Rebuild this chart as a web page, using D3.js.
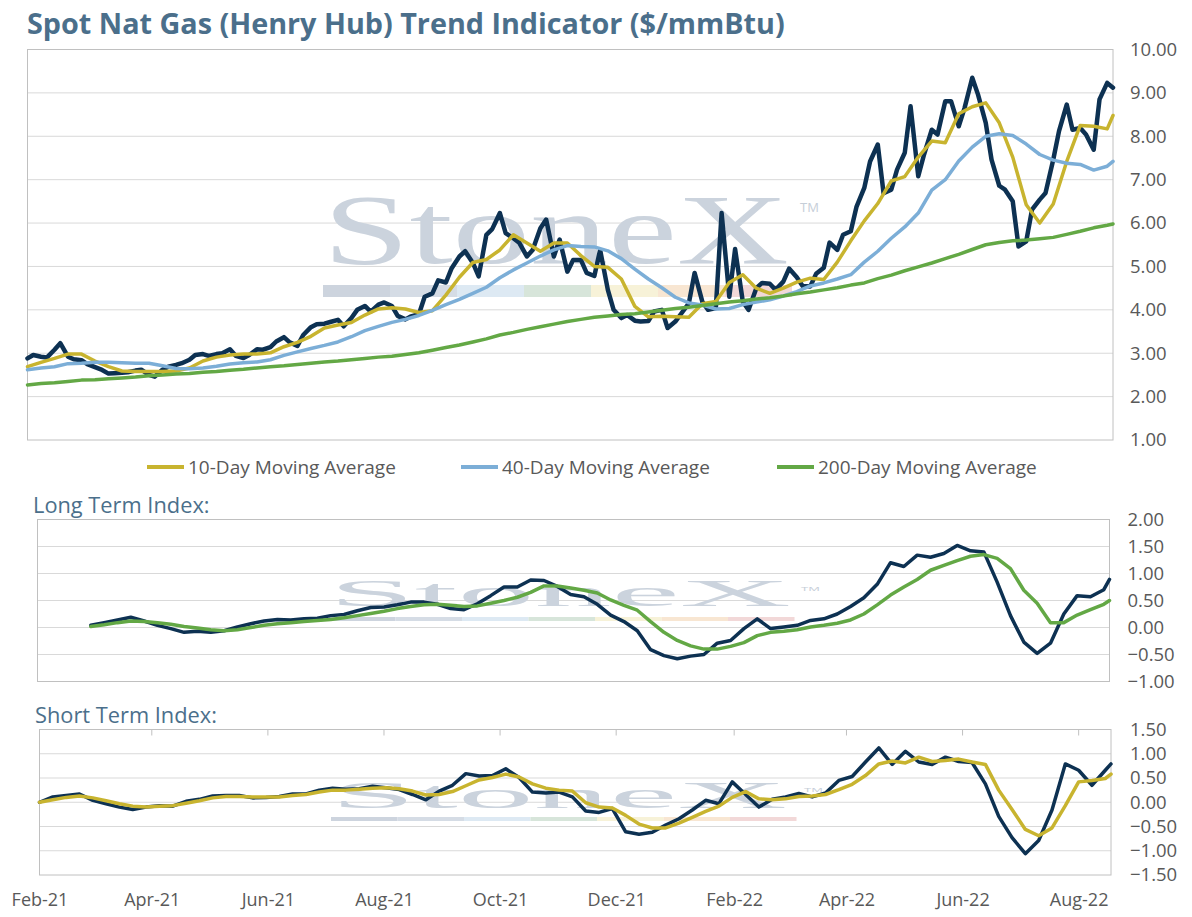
<!DOCTYPE html>
<html>
<head>
<meta charset="utf-8">
<script src="https://cdn.jsdelivr.net/npm/d3@7"></script>
<style>
  body { margin: 0; background: #fff; }
  text { font-family: "Open Sans", "Noto Sans", sans-serif; }
</style>
</head>
<body>
<svg id="chart" width="1192" height="917"></svg>
<script>
// weekly sample dates (Mondays) plus the last day of data
const weeks = [
  "2021-02-01","2021-02-08","2021-02-15","2021-02-22","2021-03-01","2021-03-08","2021-03-15","2021-03-22","2021-03-29",
  "2021-04-05","2021-04-12","2021-04-19","2021-04-26","2021-05-03","2021-05-10","2021-05-17","2021-05-24","2021-05-31",
  "2021-06-07","2021-06-14","2021-06-21","2021-06-28","2021-07-05","2021-07-12","2021-07-19","2021-07-26",
  "2021-08-02","2021-08-09","2021-08-16","2021-08-23","2021-08-30","2021-09-06","2021-09-13","2021-09-20","2021-09-27",
  "2021-10-04","2021-10-11","2021-10-18","2021-10-25","2021-11-01","2021-11-08","2021-11-15","2021-11-22","2021-11-29",
  "2021-12-06","2021-12-13","2021-12-20","2021-12-27","2022-01-03","2022-01-10","2022-01-17","2022-01-24","2022-01-31",
  "2022-02-07","2022-02-14","2022-02-21","2022-02-28","2022-03-07","2022-03-14","2022-03-21","2022-03-28",
  "2022-04-04","2022-04-11","2022-04-18","2022-04-25","2022-05-02","2022-05-09","2022-05-16","2022-05-23","2022-05-30",
  "2022-06-06","2022-06-13","2022-06-20","2022-06-27","2022-07-04","2022-07-11","2022-07-18","2022-07-25",
  "2022-08-01","2022-08-08","2022-08-15","2022-08-18"
];

// spot price sampled twice a week (Mon / Thu)
const spotDates = [
  "2021-02-01","2021-02-04","2021-02-08","2021-02-11","2021-02-15","2021-02-18","2021-02-22","2021-02-25",
  "2021-03-01","2021-03-04","2021-03-08","2021-03-11","2021-03-15","2021-03-18","2021-03-22","2021-03-25","2021-03-29","2021-04-01",
  "2021-04-05","2021-04-08","2021-04-12","2021-04-15","2021-04-19","2021-04-22","2021-04-26","2021-04-29",
  "2021-05-03","2021-05-06","2021-05-10","2021-05-13","2021-05-17","2021-05-20","2021-05-24","2021-05-27","2021-05-31","2021-06-03",
  "2021-06-07","2021-06-10","2021-06-14","2021-06-17","2021-06-21","2021-06-24","2021-06-28","2021-07-01",
  "2021-07-05","2021-07-08","2021-07-12","2021-07-15","2021-07-19","2021-07-22","2021-07-26","2021-07-29",
  "2021-08-02","2021-08-05","2021-08-09","2021-08-12","2021-08-16","2021-08-19","2021-08-23","2021-08-26","2021-08-30","2021-09-02",
  "2021-09-06","2021-09-09","2021-09-13","2021-09-16","2021-09-20","2021-09-23","2021-09-27","2021-09-30",
  "2021-10-04","2021-10-07","2021-10-11","2021-10-14","2021-10-18","2021-10-21","2021-10-25","2021-10-28",
  "2021-11-01","2021-11-04","2021-11-08","2021-11-11","2021-11-15","2021-11-18","2021-11-22","2021-11-25","2021-11-29","2021-12-02",
  "2021-12-06","2021-12-09","2021-12-13","2021-12-16","2021-12-20","2021-12-23","2021-12-27","2021-12-30",
  "2022-01-03","2022-01-06","2022-01-10","2022-01-13","2022-01-17","2022-01-20","2022-01-24","2022-01-27","2022-01-31","2022-02-03",
  "2022-02-07","2022-02-10","2022-02-14","2022-02-17","2022-02-21","2022-02-24","2022-02-28","2022-03-03",
  "2022-03-07","2022-03-10","2022-03-14","2022-03-17","2022-03-21","2022-03-24","2022-03-28","2022-03-31",
  "2022-04-04","2022-04-07","2022-04-11","2022-04-14","2022-04-18","2022-04-21","2022-04-25","2022-04-28",
  "2022-05-02","2022-05-05","2022-05-09","2022-05-12","2022-05-16","2022-05-19","2022-05-23","2022-05-26","2022-05-30","2022-06-02",
  "2022-06-06","2022-06-09","2022-06-13","2022-06-16","2022-06-20","2022-06-23","2022-06-27","2022-06-30",
  "2022-07-04","2022-07-07","2022-07-11","2022-07-14","2022-07-18","2022-07-21","2022-07-25","2022-07-28",
  "2022-08-01","2022-08-04","2022-08-08","2022-08-11","2022-08-15","2022-08-18"
];
const spotPrice = [
  2.88,2.96, 2.92,2.90, 3.08,3.23, 2.92,2.86, 2.84,2.75, 2.68,2.63, 2.53,2.54, 2.55,2.56, 2.60,2.62, 2.50,2.46,
  2.62,2.69, 2.73,2.77, 2.85,2.96, 2.98,2.94, 2.98,3.00, 3.09,2.94, 2.89,2.96, 3.09,3.08, 3.14,3.27, 3.37,3.25,
  3.17,3.42, 3.60,3.67, 3.68,3.72, 3.77,3.62, 3.81,4.00, 4.09,3.96, 4.12,4.17, 4.09,3.86, 3.78,3.85, 3.90,4.30,
  4.38,4.68, 4.63,4.96, 5.23,5.35, 5.08,4.77, 5.73,5.86, 6.23,5.77, 5.65,5.55, 5.23,5.38, 5.88,6.08, 5.23,5.62,
  4.88,5.15, 5.15,4.85, 4.78,5.38, 4.46,4.00, 3.81,3.88, 3.75,3.73, 3.74,3.96, 4.00,3.58, 3.73,3.91, 4.15,4.85,
  4.19,4.00, 4.04,6.23, 4.30,5.40, 4.19,4.00, 4.50,4.62, 4.60,4.46, 4.65,4.95, 4.75,4.55, 4.54,4.83, 4.97,5.55,
  5.38,5.73, 5.81,6.38, 6.81,7.42, 7.81,6.69, 6.77,7.23, 7.62,8.69, 7.08,7.58, 8.15,8.04, 8.81,8.81, 8.23,8.65,
  9.35,8.96, 8.31,7.46, 6.86,6.77, 6.50,5.46, 5.58,6.31, 6.54,6.69, 7.46,8.12, 8.73,8.15, 8.19,8.04, 7.69,8.85,
  9.23,9.12
];
const ma10 = [
  2.69,2.79,2.88,2.98,2.98,2.82,2.69,2.59,2.58,2.58,2.58,2.59,2.66,2.82,2.91,2.96,2.98,2.98,3.01,3.15,
  3.25,3.39,3.58,3.65,3.71,3.88,4.02,4.05,4.02,3.94,3.98,4.34,4.75,5.09,5.16,5.38,5.73,5.54,5.35,5.54,
  5.54,5.25,5.00,4.98,4.71,4.08,3.84,3.85,3.84,3.83,4.14,4.19,4.63,4.81,4.50,4.38,4.50,4.64,4.73,4.70,
  5.10,5.59,6.05,6.45,6.97,7.07,7.52,7.89,7.85,8.52,8.68,8.77,8.31,7.52,6.42,6.00,6.44,7.42,8.25,8.23,
  8.17,8.48
];
const ma40 = [
  2.62,2.66,2.69,2.76,2.77,2.79,2.79,2.78,2.77,2.77,2.71,2.65,2.64,2.66,2.70,2.75,2.78,2.80,2.85,2.95,
  3.03,3.11,3.18,3.26,3.38,3.52,3.62,3.71,3.78,3.87,3.99,4.12,4.24,4.38,4.52,4.74,4.92,5.08,5.24,5.38,
  5.48,5.46,5.45,5.36,5.18,4.94,4.71,4.51,4.29,4.16,4.11,4.02,4.03,4.12,4.18,4.23,4.32,4.42,4.55,4.62,
  4.71,4.81,5.10,5.35,5.65,5.91,6.23,6.76,7.00,7.43,7.75,8.00,8.06,8.02,7.82,7.58,7.45,7.38,7.35,7.22,
  7.31,7.42
];
const ma200 = [
  2.27,2.30,2.32,2.35,2.38,2.39,2.41,2.43,2.45,2.48,2.50,2.52,2.53,2.56,2.58,2.61,2.63,2.66,2.69,2.71,
  2.74,2.77,2.80,2.82,2.85,2.88,2.91,2.93,2.97,3.01,3.07,3.13,3.19,3.26,3.33,3.42,3.48,3.55,3.61,3.67,
  3.73,3.78,3.83,3.86,3.89,3.91,3.95,3.99,4.03,4.06,4.10,4.14,4.18,4.21,4.25,4.28,4.32,4.37,4.41,4.46,
  4.51,4.57,4.62,4.72,4.80,4.90,4.99,5.08,5.18,5.28,5.39,5.50,5.55,5.59,5.61,5.64,5.67,5.74,5.81,5.89,
  5.95,5.98
];
const longIndex = [
  null,null,null,null,0.04,0.09,0.14,0.19,0.12,0.04,-0.02,-0.09,-0.07,-0.09,-0.06,0.01,0.07,0.12,0.15,0.14,
  0.16,0.17,0.22,0.24,0.31,0.37,0.38,0.42,0.47,0.47,0.43,0.35,0.33,0.44,0.59,0.75,0.75,0.88,0.87,0.76,
  0.61,0.57,0.43,0.23,0.11,-0.06,-0.41,-0.52,-0.58,-0.53,-0.50,-0.29,-0.24,-0.02,0.16,-0.02,0.01,0.04,0.13,0.16,
  0.25,0.39,0.55,0.80,1.20,1.13,1.34,1.30,1.37,1.52,1.42,1.40,0.84,0.22,-0.27,-0.48,-0.29,0.25,0.59,0.57,
  0.70,0.89
];
const longIndexAvg = [
  null,null,null,null,0.02,0.05,0.09,0.12,0.11,0.09,0.06,0.02,-0.01,-0.04,-0.06,-0.04,0.00,0.04,0.07,0.09,
  0.11,0.13,0.15,0.18,0.22,0.26,0.30,0.35,0.39,0.42,0.43,0.41,0.39,0.40,0.45,0.50,0.56,0.65,0.77,0.77,
  0.73,0.69,0.64,0.51,0.41,0.32,0.11,-0.09,-0.24,-0.34,-0.40,-0.40,-0.35,-0.28,-0.15,-0.09,-0.07,-0.04,0.01,0.04,
  0.08,0.14,0.25,0.42,0.60,0.75,0.89,1.06,1.15,1.24,1.32,1.35,1.28,1.09,0.69,0.45,0.09,0.09,0.23,0.33,
  0.43,0.50
];
const shortIndex = [
  0.00,0.11,0.14,0.17,0.04,-0.03,-0.10,-0.15,-0.10,-0.07,-0.08,0.02,0.06,0.13,0.14,0.14,0.09,0.10,0.12,0.17,
  0.17,0.25,0.29,0.27,0.28,0.33,0.30,0.26,0.16,0.05,0.23,0.35,0.59,0.54,0.55,0.69,0.51,0.21,0.19,0.21,
  0.11,-0.18,-0.21,-0.13,-0.61,-0.66,-0.62,-0.47,-0.34,-0.16,0.04,-0.03,0.42,0.16,-0.10,0.06,0.11,0.18,0.11,0.19,
  0.45,0.53,0.83,1.12,0.78,1.05,0.83,0.78,0.93,0.84,0.82,0.38,-0.29,-0.73,-1.06,-0.79,-0.16,0.79,0.66,0.35,
  0.66,0.79
];
const shortIndexAvg = [
  0.00,0.05,0.10,0.13,0.09,0.03,-0.03,-0.08,-0.10,-0.08,-0.07,-0.02,0.03,0.09,0.12,0.12,0.11,0.11,0.11,0.14,
  0.16,0.21,0.25,0.25,0.27,0.29,0.30,0.28,0.23,0.15,0.16,0.22,0.34,0.46,0.51,0.58,0.52,0.38,0.29,0.25,
  0.23,-0.01,-0.10,-0.12,-0.27,-0.45,-0.53,-0.53,-0.43,-0.31,-0.19,-0.08,0.10,0.22,0.07,0.05,0.07,0.12,0.13,0.16,
  0.26,0.37,0.55,0.79,0.85,0.81,0.93,0.84,0.86,0.89,0.83,0.78,0.25,-0.15,-0.56,-0.69,-0.53,-0.07,0.42,0.45,
  0.49,0.58
];

const priceTicks = [1, 2, 3, 4, 5, 6, 7, 8, 9, 10];
const longTicks = [-1, -0.5, 0, 0.5, 1, 1.5, 2];
const shortTicks = [-1.5, -1, -0.5, 0, 0.5, 1, 1.5];
const monthTicks = ["2021-02-01","2021-04-01","2021-06-01","2021-08-01","2021-10-01","2021-12-01",
                    "2022-02-01","2022-04-01","2022-06-01","2022-08-01"];
const legendLabels = ["10-Day Moving Average", "40-Day Moving Average", "200-Day Moving Average"];

const COLORS = {
  spot: "#0d3152",
  ma10: "#c8b42f",
  ma40: "#7caed7",
  ma200: "#63a845",
  grid: "#d9d9d9",
  frame: "#c0c0c0",
  axisText: "#595959",
  heading: "#4b6f8b"
};
const markColors = ["#cdd4de", "#d5dce5", "#dde9f3", "#d7e5da", "#f7f2d8", "#f8e6d2", "#f2d8d8"];
const FONT = "'Open Sans', 'Noto Sans', sans-serif";

const parse = d3.timeParse("%Y-%m-%d");
const weekDates = weeks.map(parse);
const spotSeries = spotDates.map((d, i) => ({ date: parse(d), value: spotPrice[i] }));
const weekly = arr => arr.map((v, i) => ({ date: weekDates[i], value: v }));
const dateDomain = [parse(spotDates[0]), parse(spotDates[spotDates.length - 1])];

const svg = d3.select("#chart");

// title, sized so it spans the same width as the original
const title = svg.append("text")
  .attr("x", 27)
  .attr("y", 34)
  .attr("fill", COLORS.heading)
  .attr("font-weight", "bold")
  .style("font-size", "27px")
  .text("Spot Nat Gas (Henry Hub) Trend Indicator ($/mmBtu)");
const titleW = title.node().getComputedTextLength();
if (titleW > 0) title.style("font-size", (27 * 758 / titleW).toFixed(2) + "px");

function drawPanel(p) {
  const g = svg.append("g");
  const x = d3.scaleTime().domain(dateDomain).range([p.x0, p.x1]);
  const y = d3.scaleLinear().domain(p.yDomain).range([p.y1, p.y0]);

  // gridlines
  g.selectAll(".grid")
    .data(p.ticks.slice(1, -1))
    .enter()
    .append("line")
    .attr("x1", p.x0).attr("x2", p.x1)
    .attr("y1", d => y(d)).attr("y2", d => y(d))
    .attr("stroke", COLORS.grid)
    .attr("stroke-width", 1);

  // frame
  g.append("rect")
    .attr("x", p.x0).attr("y", p.y0)
    .attr("width", p.x1 - p.x0).attr("height", p.y1 - p.y0)
    .attr("fill", "none")
    .attr("stroke", COLORS.frame)
    .attr("stroke-width", 1);

  drawWatermark(g, p.mark);

  // right-hand value axis
  const axis = g.append("g")
    .attr("transform", `translate(${p.x1},0)`)
    .call(d3.axisRight(y).tickValues(p.ticks).tickSize(0).tickPadding(p.labelPad).tickFormat(d3.format(".2f")));
  axis.select(".domain").remove();
  axis.selectAll("text")
    .attr("fill", COLORS.axisText)
    .style("font-family", FONT)
    .style("font-size", "18.5px");

  const line = d3.line()
    .defined(d => d.value !== null)
    .x(d => x(d.date))
    .y(d => y(d.value));

  p.series.forEach(s => {
    g.append("path")
      .datum(s.data)
      .attr("d", line)
      .attr("fill", "none")
      .attr("stroke", s.color)
      .attr("stroke-width", s.width)
      .attr("stroke-linejoin", "round")
      .attr("stroke-linecap", "round");
  });

  return { g, x, y };
}

function drawWatermark(g, m) {
  const t = g.append("g").attr("transform", `translate(${m.x},${m.baseline}) scale(1,${m.sy})`);
  t.append("text")
    .attr("x", 0).attr("y", 0)
    .attr("textLength", m.width)
    .attr("lengthAdjust", "spacingAndGlyphs")
    .style("font-family", "'Liberation Serif', 'DejaVu Serif', serif")
    .style("font-size", "100px")
    .attr("fill", "#cbd3dd")
    .text("StoneX");
  const tm = g.append("g").attr("transform", `translate(${m.tmX},${m.tmY}) scale(1,${m.sy})`);
  tm.append("text")
    .attr("fill", "#c6ced8")
    .style("font-family", FONT)
    .style("font-size", "13px")
    .text("TM");
  g.selectAll(null)
    .data(markColors)
    .enter()
    .append("rect")
    .attr("x", (d, i) => m.x + i * m.segW)
    .attr("y", m.barY)
    .attr("width", m.segW)
    .attr("height", m.barH)
    .attr("fill", d => d);
}

// price panel
drawPanel({
  x0: 27.5, x1: 1113, y0: 49.5, y1: 440,
  yDomain: [1, 10], ticks: priceTicks, labelPad: 17,
  mark: { x: 323, baseline: 263, width: 466, sy: 1, tmX: 800, tmY: 212, barY: 285, barH: 12, segW: 67 },
  series: [
    { data: spotSeries, color: COLORS.spot, width: 4.5 },
    { data: weekly(ma10), color: COLORS.ma10, width: 3.5 },
    { data: weekly(ma40), color: COLORS.ma40, width: 3.5 },
    { data: weekly(ma200), color: COLORS.ma200, width: 3.5 }
  ]
});

// legend
const legendX = [147, 461, 777];
const legendColors = [COLORS.ma10, COLORS.ma40, COLORS.ma200];
const legend = svg.append("g").attr("transform", "translate(0,467)");
legendLabels.forEach((label, i) => {
  legend.append("line")
    .attr("x1", legendX[i]).attr("x2", legendX[i] + 37)
    .attr("y1", 0).attr("y2", 0)
    .attr("stroke", legendColors[i])
    .attr("stroke-width", 4);
  legend.append("text")
    .attr("x", legendX[i] + 41)
    .attr("y", 0)
    .attr("dy", "0.35em")
    .attr("fill", COLORS.axisText)
    .style("font-size", "19px")
    .text(label);
});

// long term index
svg.append("text")
  .attr("x", 33).attr("y", 513)
  .attr("fill", COLORS.heading)
  .style("font-size", "21.8px")
  .text("Long Term Index:");

drawPanel({
  x0: 37.5, x1: 1109.5, y0: 519.5, y1: 681.5,
  yDomain: [-1, 2], ticks: longTicks, labelPad: 18,
  mark: { x: 329, baseline: 606, width: 462, sy: 0.39, tmX: 801, tmY: 591, barY: 617, barH: 4, segW: 66.5 },
  series: [
    { data: weekly(longIndex), color: COLORS.spot, width: 3.5 },
    { data: weekly(longIndexAvg), color: COLORS.ma200, width: 3.5 }
  ]
});

// short term index
svg.append("text")
  .attr("x", 35).attr("y", 723)
  .attr("fill", COLORS.heading)
  .style("font-size", "21.8px")
  .text("Short Term Index:");

const shortPanel = drawPanel({
  x0: 39.5, x1: 1111, y0: 729.5, y1: 875,
  yDomain: [-1.5, 1.5], ticks: shortTicks, labelPad: 19,
  mark: { x: 331, baseline: 808, width: 456, sy: 0.38, tmX: 804, tmY: 792, barY: 817, barH: 4, segW: 66.5 },
  series: [
    { data: weekly(shortIndex), color: COLORS.spot, width: 3.5 },
    { data: weekly(shortIndexAvg), color: COLORS.ma10, width: 3.5 }
  ]
});

// month tick marks along the top edge, labels below the short panel
const months = monthTicks.map(parse);
shortPanel.g.selectAll(".mtick")
  .data(months)
  .enter()
  .append("line")
  .attr("x1", d => shortPanel.x(d)).attr("x2", d => shortPanel.x(d))
  .attr("y1", 729.5).attr("y2", 735.5)
  .attr("stroke", COLORS.frame);

const xAxis = svg.append("g")
  .attr("transform", "translate(0,893)")
  .call(d3.axisBottom(shortPanel.x).tickValues(months).tickSize(0).tickPadding(0).tickFormat(d3.timeFormat("%b-%y")));
xAxis.select(".domain").remove();
xAxis.selectAll("text")
  .attr("fill", COLORS.axisText)
  .style("font-family", FONT)
  .style("font-size", "18px");
</script>
</body>
</html>
